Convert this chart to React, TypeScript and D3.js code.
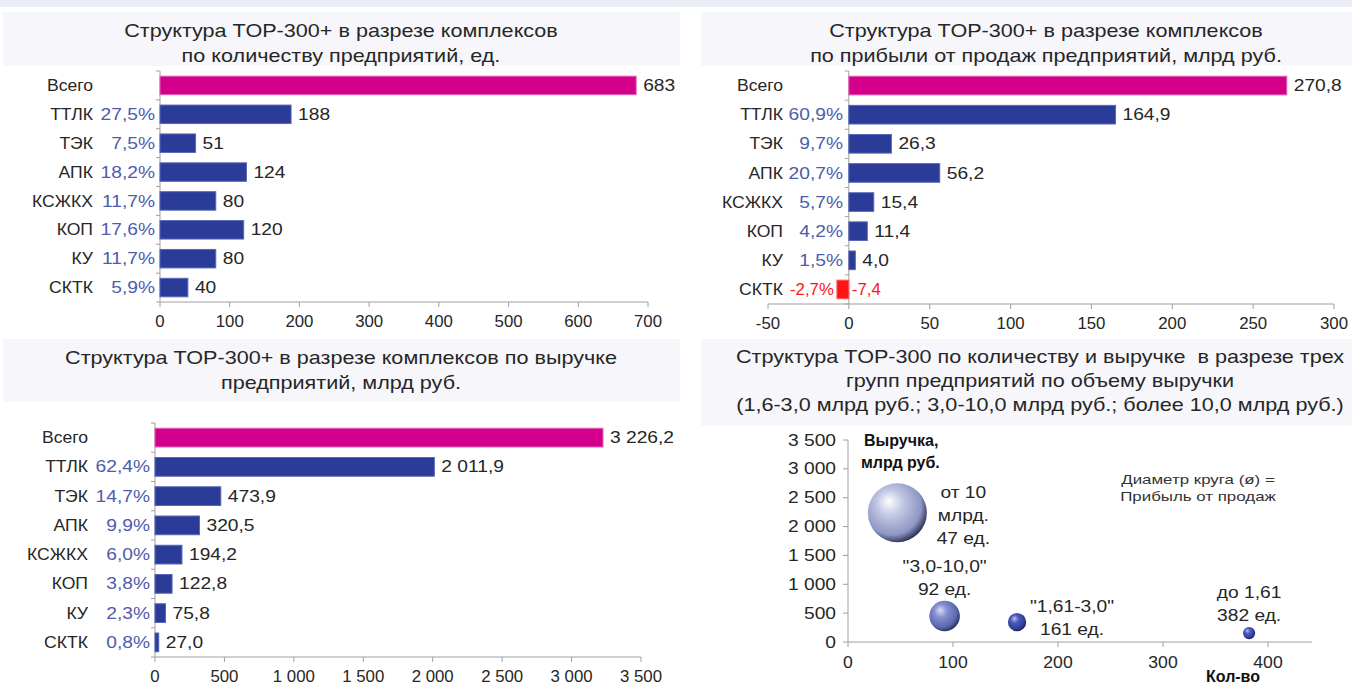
import React from "react";
import * as d3 from "d3";

const categories = ["Всего", "ТТЛК", "ТЭК", "АПК", "КСЖКХ", "КОП", "КУ", "СКТК"];
const countValues = [683, 188, 51, 124, 80, 120, 80, 40];
const countShares = ["", "27,5%", "7,5%", "18,2%", "11,7%", "17,6%", "11,7%", "5,9%"];
const profitValues = [270.8, 164.9, 26.3, 56.2, 15.4, 11.4, 4.0, -7.4];
const profitShares = ["", "60,9%", "9,7%", "20,7%", "5,7%", "4,2%", "1,5%", "-2,7%"];
const revenueValues = [3226.2, 2011.9, 473.9, 320.5, 194.2, 122.8, 75.8, 27.0];
const revenueShares = ["", "62,4%", "14,7%", "9,9%", "6,0%", "3,8%", "2,3%", "0,8%"];
const countTicks = [0, 100, 200, 300, 400, 500, 600, 700];
const profitTicks = [-50, 0, 50, 100, 150, 200, 250, 300];
const revenueTicks = [0, 500, 1000, 1500, 2000, 2500, 3000, 3500];

const bubbleCounts = [47, 92, 161, 382];
const bubbleRevenue = [2240, 450, 345, 155];
const bubbleProfit = [192.5, 51.5, 18.5, 8.3];
const bubbleYTicks = [0, 500, 1000, 1500, 2000, 2500, 3000, 3500];
const bubbleXTicks = [0, 100, 200, 300, 400];
const bubbleLabels = [
  ["от 10", "млрд.", "47 ед."],
  ["\"3,0-10,0\"", "92 ед."],
  ["\"1,61-3,0\"", "161 ед."],
  ["до 1,61", "382 ед."],
];

const titles = {
  count: ["Структура TOP-300+ в разрезе комплексов", "по количеству предприятий, ед."],
  profit: ["Структура TOP-300+ в разрезе комплексов", "по прибыли от продаж предприятий, млрд руб."],
  revenue: ["Структура TOP-300+ в разрезе комплексов по выручке", "предприятий, млрд руб."],
  bubble: [
    "Структура TOP-300 по количеству и выручке  в разрезе трех",
    "групп предприятий по объему выручки",
    "(1,6-3,0 млрд руб.; 3,0-10,0 млрд руб.; более 10,0 млрд руб.)",
  ],
};

const ru = d3.formatLocale({ decimal: ",", thousands: "\u00a0", grouping: [3], currency: ["", ""], minus: "-" });
const fmtInt = ru.format(",d");
const fmt1 = ru.format(",.1f");

const FONT = "'Liberation Sans', Arial, sans-serif";
const MAGENTA = "#d4008c";
const BLUE = "#2a3b98";
const BLUE_STROKE = "#5868b8";
const RED = "#ff1515";
const PCT = "#4d5cab";
const TXT = "#262626";
const AXIS = "#a0a0a0";

function T(props: {
  x: number;
  y: number;
  sx?: number;
  anchor?: "start" | "middle" | "end";
  size?: number;
  fill?: string;
  bold?: boolean;
  dy?: string;
  children: React.ReactNode;
}) {
  const { x, y, sx = 1, anchor = "start", size = 16, fill = TXT, bold = false, dy } = props;
  return (
    <text
      transform={`translate(${x},${y}) scale(${sx},1)`}
      textAnchor={anchor}
      fontSize={size}
      fill={fill}
      fontWeight={bold ? "bold" : "normal"}
      dy={dy}
      style={{ whiteSpace: "pre" }}
    >
      {props.children}
    </text>
  );
}

type BarProps = {
  values: number[];
  shares: string[];
  domain: [number, number];
  ticks: number[];
  xRange: [number, number];
  yRange: [number, number];
  axisY: number;
  catRight: number;
  pctRight: number;
  valueFmt: (v: number) => string;
  tickFmt: (v: number) => string;
};

function BarChart(p: BarProps) {
  const x = d3.scaleLinear().domain(p.domain).range(p.xRange);
  const y = d3.scaleBand<string>().domain(categories).range(p.yRange).paddingInner(0.36).paddingOuter(0.18);
  const x0 = x(0);
  const bh = y.bandwidth();
  const step = y.step();
  const boundaries = categories.map((c) => (y(c) as number) - step * 0.18).concat([p.yRange[1]]);
  return (
    <g fontFamily={FONT}>
      <line x1={x0} x2={x0} y1={p.yRange[0]} y2={p.axisY} stroke={AXIS} strokeWidth={1} />
      {boundaries.map((b, i) => (
        <line key={"yb" + i} x1={x0 - 4} x2={x0} y1={b} y2={b} stroke={AXIS} />
      ))}
      <line x1={p.xRange[0]} x2={p.xRange[1]} y1={p.axisY} y2={p.axisY} stroke={AXIS} />
      {p.ticks.map((t) => (
        <g key={"t" + t}>
          <line x1={x(t)} x2={x(t)} y1={p.axisY} y2={p.axisY + 5} stroke={AXIS} />
          <T x={x(t)} y={p.axisY + 25} anchor="middle" sx={1.05}>
            {p.tickFmt(t)}
          </T>
        </g>
      ))}
      {categories.map((c, i) => {
        const v = p.values[i];
        const yy = y(c) as number;
        const cy = yy + bh / 2;
        const neg = v < 0;
        const fill = i === 0 ? MAGENTA : neg ? RED : BLUE;
        const stroke = i === 0 ? "#e060b0" : neg ? "#ff6060" : BLUE_STROKE;
        const xa = Math.min(x(v), x0);
        const w = Math.abs(x(v) - x0);
        return (
          <g key={c}>
            <rect x={xa} y={yy} width={w} height={bh} fill={fill} stroke={stroke} strokeWidth={1} />
            <T x={p.catRight} y={cy} dy="0.35em" anchor="end" sx={1.1}>
              {c}
            </T>
            {p.shares[i] && (
              <T
                x={neg ? xa - 3 : p.pctRight}
                y={cy}
                dy="0.35em"
                anchor="end"
                sx={neg ? 1.05 : 1.2}
                fill={neg ? RED : PCT}
              >
                {p.shares[i]}
              </T>
            )}
            <T x={neg ? x0 + 3 : x(v) + 7} y={cy} dy="0.35em" sx={neg ? 1.05 : 1.2} fill={neg ? RED : TXT}>
              {p.valueFmt(v)}
            </T>
          </g>
        );
      })}
    </g>
  );
}

function Title({ lines, cx, y0, dy }: { lines: string[]; cx: number; y0: number; dy: number }) {
  return (
    <g fontFamily={FONT}>
      {lines.map((l, i) => (
        <T key={i} x={cx} y={y0 + i * dy} anchor="middle" size={18} sx={1.2}>
          {l}
        </T>
      ))}
    </g>
  );
}

function BubbleChart() {
  const x = d3.scaleLinear().domain([0, 400]).range([848, 1268]);
  const y = d3.scaleLinear().domain([0, 3500]).range([642, 440]);
  const r = d3.scaleSqrt().domain([0, d3.max(bubbleProfit) as number]).range([0, 29.5]);
  const grads = ["bgLight", "bgMid", "bgDark", "bgDark"];
  const offsets = [
    { dx: 66, dy: 3 },
    { dx: 0, dy: -38 },
    { dx: 55, dy: -4 },
    { dx: 0, dy: -29 },
  ];
  return (
    <g fontFamily={FONT}>
      <defs>
        <radialGradient id="bgLight" cx="0.42" cy="0.4" r="0.62" fx="0.35" fy="0.3">
          <stop offset="0" stopColor="#ffffff" />
          <stop offset="0.35" stopColor="#c2c8e4" />
          <stop offset="0.8" stopColor="#8e96c4" />
          <stop offset="1" stopColor="#2c3050" />
        </radialGradient>
        <radialGradient id="bgMid" cx="0.42" cy="0.4" r="0.62" fx="0.35" fy="0.3">
          <stop offset="0" stopColor="#d8ddf4" />
          <stop offset="0.35" stopColor="#8590d0" />
          <stop offset="0.8" stopColor="#5a66ac" />
          <stop offset="1" stopColor="#262c58" />
        </radialGradient>
        <radialGradient id="bgDark" cx="0.42" cy="0.4" r="0.62" fx="0.35" fy="0.3">
          <stop offset="0" stopColor="#b8c2f0" />
          <stop offset="0.35" stopColor="#4b5cbc" />
          <stop offset="0.8" stopColor="#2f3e9a" />
          <stop offset="1" stopColor="#141c50" />
        </radialGradient>
      </defs>
      <line x1={848} x2={848} y1={440} y2={642} stroke={AXIS} />
      {bubbleYTicks.map((t) => (
        <g key={"by" + t}>
          <line x1={843} x2={848} y1={y(t)} y2={y(t)} stroke={AXIS} />
          <T x={836} y={y(t)} dy="0.35em" anchor="end" sx={1.2}>
            {fmtInt(t)}
          </T>
        </g>
      ))}
      <line x1={848} x2={1312} y1={642} y2={642} stroke={AXIS} />
      {bubbleXTicks.map((t) => (
        <g key={"bx" + t}>
          <line x1={x(t)} x2={x(t)} y1={642} y2={647} stroke={AXIS} />
          <T x={x(t)} y={668} anchor="middle" sx={1.1}>
            {fmtInt(t)}
          </T>
        </g>
      ))}
      {bubbleCounts.map((c, i) => (
        <circle key={"b" + i} cx={x(c)} cy={y(bubbleRevenue[i])} r={r(bubbleProfit[i])} fill={`url(#${grads[i]})`} />
      ))}
      {bubbleCounts.map((c, i) => {
        const lines = bubbleLabels[i];
        const n = lines.length;
        const cx = x(c) + offsets[i].dx;
        const cy = y(bubbleRevenue[i]) + offsets[i].dy;
        return (
          <g key={"bl" + i}>
            {lines.map((l, j) => (
              <T key={j} x={cx} y={cy + (j - (n - 1) / 2) * 23} dy="0.35em" anchor="middle" sx={1.2}>
                {l}
              </T>
            ))}
          </g>
        );
      })}
      <T x={864} y={446} bold fill="#111">Выручка,</T>
      <T x={861} y={468} bold fill="#111">млрд руб.</T>
      <T x={1233} y={682} anchor="middle" bold fill="#111">Кол-во</T>
      <T x={1198} y={484} anchor="middle" size={13} sx={1.3} fill="#333">Диаметр круга (ø) =</T>
      <T x={1198} y={501} anchor="middle" size={13} sx={1.3} fill="#333">Прибыль от продаж</T>
    </g>
  );
}

export default function App() {
  return (
    <svg
      width={1352}
      height={684}
      viewBox="0 0 1352 684"
      style={{ position: "absolute", left: 0, top: 0, background: "#ffffff" }}
    >
      <rect x={0} y={0} width={1352} height={7} fill="#eaedf6" />
      <rect x={3} y={12} width={677} height={54} fill="#f6f6fb" />
      <rect x={701} y={12} width={651} height={54} fill="#f6f6fb" />
      <rect x={3} y={339} width={677} height={63} fill="#f6f6fb" />
      <rect x={701} y={339} width={651} height={87} fill="#f6f6fb" />

      <Title lines={titles.count} cx={341} y0={37} dy={25} />
      <Title lines={titles.profit} cx={1046} y0={37} dy={25} />
      <Title lines={titles.revenue} cx={341} y0={364} dy={25} />
      <Title lines={titles.bubble} cx={1040} y0={363} dy={24} />

      <BarChart
        values={countValues}
        shares={countShares}
        domain={[0, 700]}
        ticks={countTicks}
        xRange={[160, 648]}
        yRange={[71, 302]}
        axisY={302}
        catRight={93}
        pctRight={155}
        valueFmt={fmtInt}
        tickFmt={fmtInt}
      />
      <BarChart
        values={profitValues}
        shares={profitShares}
        domain={[-50, 300]}
        ticks={profitTicks}
        xRange={[768, 1334]}
        yRange={[71, 304]}
        axisY={304}
        catRight={783}
        pctRight={843}
        valueFmt={fmt1}
        tickFmt={fmtInt}
      />
      <BarChart
        values={revenueValues}
        shares={revenueShares}
        domain={[0, 3500]}
        ticks={revenueTicks}
        xRange={[155, 641]}
        yRange={[423, 657]}
        axisY={657}
        catRight={88}
        pctRight={150}
        valueFmt={fmt1}
        tickFmt={fmtInt}
      />
      <BubbleChart />
    </svg>
  );
}
